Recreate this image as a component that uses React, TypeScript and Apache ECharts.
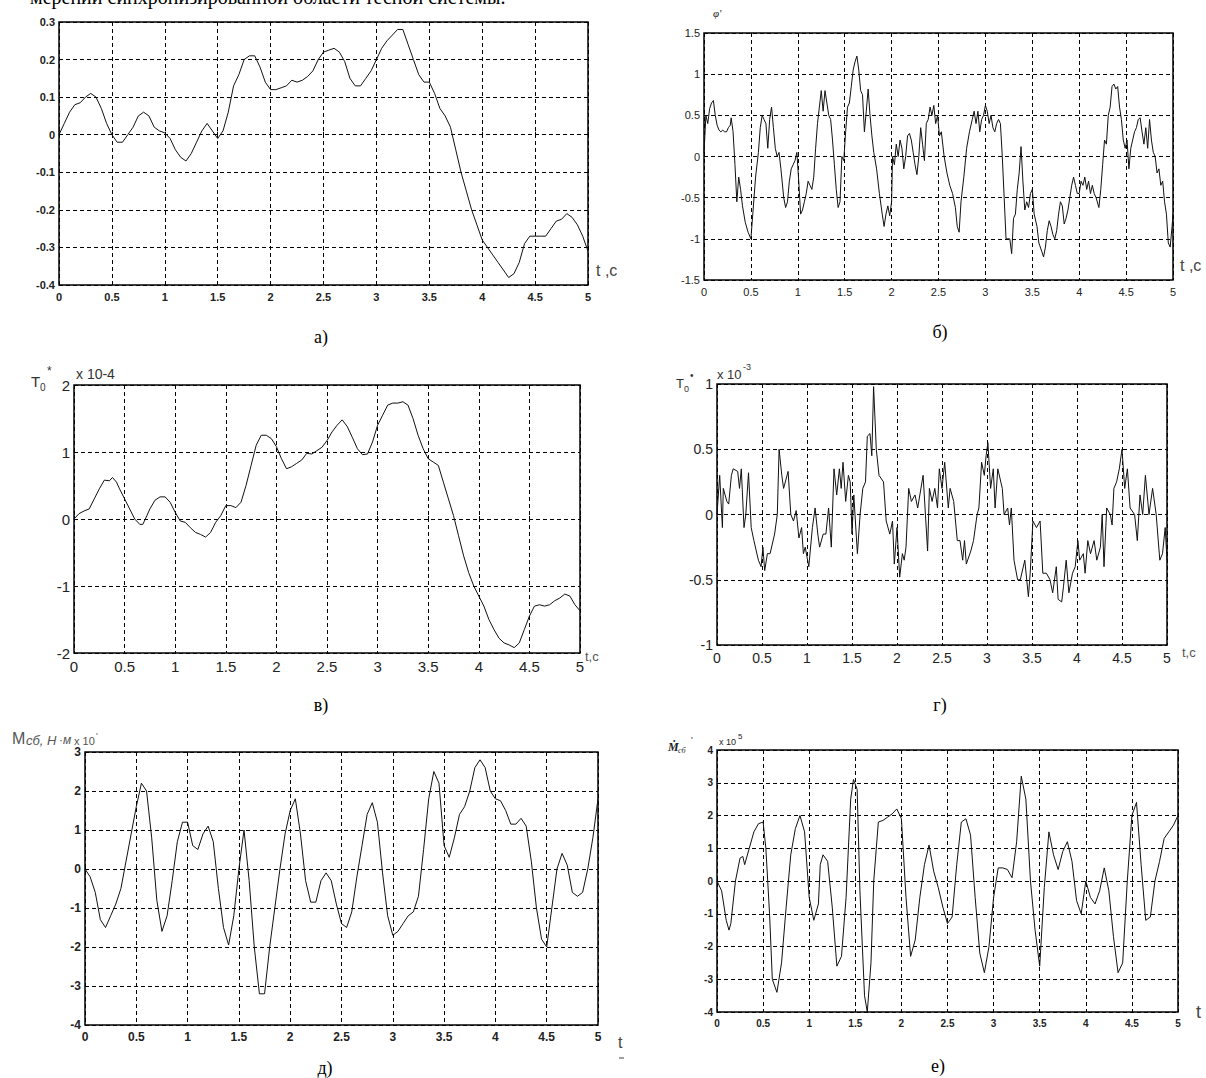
import React, { useEffect, useRef } from "react";
import * as echarts from "echarts";

// ---------- Panel а) ----------
const tA = [0,0.05,0.1,0.15,0.2,0.25,0.3,0.35,0.4,0.45,0.5,0.55,0.6,0.65,0.7,0.75,0.8,0.85,0.9,0.95,1,1.05,1.1,1.15,1.2,1.25,1.3,1.35,1.4,1.45,1.5,1.55,1.6,1.65,1.7,1.75,1.8,1.85,1.9,1.95,2,2.05,2.1,2.15,2.2,2.25,2.3,2.35,2.4,2.45,2.5,2.55,2.6,2.65,2.7,2.75,2.8,2.85,2.9,2.95,3,3.05,3.1,3.15,3.2,3.25,3.3,3.35,3.4,3.45,3.5,3.55,3.6,3.65,3.7,3.75,3.8,3.85,3.9,3.95,4,4.05,4.1,4.15,4.2,4.25,4.3,4.35,4.4,4.45,4.5,4.55,4.6,4.65,4.7,4.75,4.8,4.85,4.9,4.95,5];
const yA = [0,0.03,0.06,0.08,0.085,0.1,0.11,0.1,0.07,0.03,0,-0.02,-0.02,0,0.02,0.05,0.06,0.05,0.02,0.01,0.005,-0.01,-0.04,-0.06,-0.07,-0.05,-0.02,0.01,0.03,0.01,-0.01,0.01,0.06,0.13,0.16,0.2,0.21,0.21,0.18,0.14,0.12,0.12,0.125,0.13,0.145,0.14,0.145,0.155,0.17,0.2,0.22,0.225,0.23,0.22,0.195,0.15,0.13,0.13,0.15,0.17,0.2,0.23,0.25,0.265,0.28,0.28,0.24,0.2,0.16,0.14,0.14,0.11,0.07,0.05,0.02,-0.04,-0.1,-0.15,-0.2,-0.24,-0.28,-0.3,-0.32,-0.34,-0.36,-0.38,-0.37,-0.34,-0.29,-0.27,-0.27,-0.27,-0.27,-0.25,-0.23,-0.225,-0.21,-0.22,-0.24,-0.27,-0.31];

// ---------- Panel б) ----------
const tB = [0,0.02,0.04,0.06,0.08,0.1,0.12,0.14,0.16,0.18,0.2,0.22,0.24,0.26,0.28,0.29,0.31,0.33,0.35,0.37,0.39,0.41,0.44,0.47,0.5,0.52,0.55,0.58,0.6,0.62,0.64,0.66,0.68,0.7,0.72,0.74,0.76,0.78,0.8,0.82,0.85,0.87,0.89,0.91,0.93,0.95,0.97,0.99,1.01,1.03,1.05,1.07,1.09,1.11,1.13,1.15,1.17,1.19,1.21,1.23,1.25,1.27,1.29,1.31,1.33,1.35,1.37,1.39,1.41,1.43,1.45,1.47,1.49,1.51,1.53,1.55,1.57,1.59,1.61,1.63,1.65,1.67,1.69,1.71,1.73,1.75,1.77,1.79,1.81,1.84,1.87,1.9,1.92,1.94,1.96,1.98,2,2.01,2.03,2.05,2.07,2.09,2.11,2.13,2.15,2.17,2.19,2.21,2.23,2.25,2.27,2.29,2.31,2.33,2.35,2.37,2.39,2.41,2.43,2.45,2.47,2.49,2.51,2.53,2.56,2.59,2.62,2.65,2.68,2.7,2.72,2.74,2.77,2.8,2.83,2.86,2.88,2.9,2.92,2.94,2.96,2.98,3,3.02,3.04,3.06,3.08,3.1,3.12,3.14,3.16,3.18,3.2,3.22,3.24,3.26,3.28,3.3,3.32,3.34,3.36,3.38,3.4,3.42,3.44,3.46,3.48,3.5,3.52,3.55,3.57,3.6,3.62,3.64,3.66,3.68,3.7,3.72,3.74,3.76,3.78,3.8,3.82,3.84,3.86,3.88,3.9,3.92,3.94,3.96,3.98,4,4.02,4.04,4.06,4.08,4.1,4.12,4.14,4.16,4.18,4.21,4.23,4.25,4.27,4.29,4.31,4.33,4.35,4.37,4.39,4.41,4.43,4.45,4.47,4.49,4.51,4.53,4.55,4.57,4.59,4.61,4.63,4.65,4.67,4.69,4.71,4.73,4.75,4.77,4.79,4.81,4.83,4.85,4.87,4.89,4.91,4.93,4.95,4.97,4.99,5];
const yB = [0.04,0.5,0.4,0.58,0.65,0.68,0.5,0.38,0.32,0.3,0.32,0.3,0.3,0.35,0.38,0.47,0.3,-0.1,-0.55,-0.25,-0.4,-0.6,-0.8,-0.92,-1,-0.7,-0.25,0.05,0.35,0.5,0.45,0.4,0.1,0.45,0.6,0.35,0.1,0,0.05,-0.15,-0.5,-0.62,-0.55,-0.3,-0.15,-0.1,-0.05,0.05,-0.3,-0.7,-0.65,-0.55,-0.45,-0.3,-0.35,-0.4,-0.25,0.1,0.4,0.6,0.8,0.55,0.8,0.65,0.5,0.45,0.2,-0.1,-0.4,-0.62,-0.55,0,-0.05,0.3,0.6,0.65,0.85,1.05,1.15,1.22,1.05,0.8,0.75,0.3,0.55,0.82,0.5,0.25,0.05,-0.15,-0.45,-0.7,-0.85,-0.7,-0.6,-0.72,-0.55,0,-0.1,0.15,0,0.2,0.1,-0.15,0,0.25,0.28,0.2,0.05,-0.1,-0.22,0,0.35,0.15,-0.05,0.4,0.45,0.6,0.5,0.62,0.4,0.5,0.25,0.3,0,-0.2,-0.35,-0.45,-0.62,-0.85,-0.92,-0.55,-0.25,0.1,0.3,0.45,0.55,0.4,0.55,0.3,0.45,0.5,0.62,0.55,0.4,0.5,0.35,0.3,0.4,0.45,0.4,0,-0.5,-1,-1,-1,-1.18,-0.75,-0.7,-0.4,-0.2,0.12,-0.3,-0.65,-0.55,-0.62,-0.45,-0.4,-0.7,-0.85,-1.05,-1.15,-1.22,-1.1,-0.9,-0.78,-0.85,-0.95,-1,-0.9,-0.7,-0.55,-0.6,-0.82,-0.75,-0.65,-0.5,-0.35,-0.25,-0.35,-0.45,-0.45,-0.3,-0.35,-0.25,-0.4,-0.3,-0.45,-0.35,-0.45,-0.5,-0.62,-0.4,-0.1,0.2,0.15,0.5,0.6,0.85,0.88,0.82,0.85,0.6,0.45,0.2,0.1,0.2,-0.15,0.1,0.2,0.3,0.35,0.45,0.47,0.3,0.15,0.35,0.1,0.45,0.2,0.05,0,-0.2,-0.15,-0.35,-0.3,-0.55,-0.7,-1.05,-1.1,-0.85,-0.7];

// ---------- Panel в) (x 10^-4) ----------
const tV = [0,0.05,0.1,0.15,0.2,0.25,0.3,0.35,0.38,0.42,0.45,0.5,0.55,0.6,0.65,0.68,0.72,0.75,0.8,0.85,0.9,0.95,1,1.05,1.1,1.15,1.2,1.25,1.3,1.35,1.4,1.45,1.5,1.55,1.6,1.65,1.7,1.75,1.8,1.85,1.9,1.95,2,2.05,2.1,2.15,2.2,2.25,2.3,2.35,2.4,2.45,2.5,2.55,2.6,2.65,2.7,2.75,2.8,2.85,2.9,2.95,3,3.05,3.1,3.15,3.2,3.25,3.3,3.35,3.4,3.45,3.5,3.55,3.6,3.65,3.7,3.75,3.8,3.85,3.9,3.95,4,4.05,4.1,4.15,4.2,4.25,4.3,4.35,4.4,4.45,4.5,4.55,4.6,4.65,4.7,4.75,4.8,4.85,4.9,4.95,5];
const yV = [0,0.08,0.12,0.15,0.3,0.45,0.58,0.57,0.62,0.55,0.45,0.3,0.15,0,-0.08,-0.08,0.05,0.15,0.28,0.33,0.33,0.25,0.1,-0.03,-0.05,-0.13,-0.2,-0.23,-0.27,-0.2,-0.05,0.05,0.2,0.2,0.17,0.25,0.5,0.8,1.1,1.25,1.25,1.2,1.08,0.9,0.75,0.78,0.83,0.88,0.98,0.97,1.02,1.07,1.17,1.3,1.4,1.48,1.38,1.22,1.05,0.96,0.97,1.15,1.4,1.55,1.7,1.73,1.73,1.75,1.7,1.5,1.25,1.05,0.9,0.85,0.8,0.55,0.3,0.05,-0.25,-0.55,-0.8,-1,-1.15,-1.3,-1.5,-1.65,-1.78,-1.85,-1.88,-1.92,-1.85,-1.65,-1.45,-1.3,-1.28,-1.3,-1.28,-1.22,-1.18,-1.12,-1.15,-1.28,-1.37];

// ---------- Panel г) (x 10^-3) ----------
const tG = [0,0.03,0.06,0.07,0.11,0.13,0.16,0.18,0.23,0.25,0.27,0.3,0.32,0.35,0.38,0.41,0.46,0.49,0.51,0.53,0.56,0.59,0.64,0.67,0.69,0.72,0.74,0.79,0.82,0.85,0.88,0.91,0.94,0.96,0.98,1.02,1.06,1.09,1.12,1.14,1.18,1.21,1.24,1.27,1.3,1.33,1.36,1.38,1.4,1.43,1.46,1.48,1.5,1.52,1.56,1.59,1.62,1.65,1.67,1.7,1.72,1.74,1.77,1.8,1.85,1.88,1.92,1.95,1.97,2,2.03,2.06,2.08,2.1,2.13,2.16,2.2,2.23,2.29,2.34,2.36,2.39,2.42,2.45,2.47,2.5,2.53,2.57,2.59,2.63,2.67,2.7,2.73,2.75,2.77,2.82,2.85,2.89,2.91,2.94,2.97,2.99,3.01,3.04,3.07,3.09,3.12,3.17,3.19,3.23,3.25,3.27,3.3,3.34,3.37,3.42,3.46,3.48,3.51,3.55,3.59,3.62,3.66,3.7,3.73,3.77,3.79,3.83,3.85,3.88,3.91,3.95,3.98,4.01,4.03,4.07,4.09,4.12,4.15,4.19,4.22,4.26,4.28,4.3,4.33,4.37,4.39,4.41,4.44,4.47,4.5,4.53,4.56,4.59,4.64,4.67,4.7,4.73,4.76,4.8,4.84,4.88,4.92,4.95,4.98,5];
const yG = [0,0.3,-0.1,0.2,0.1,0.08,0.3,0.35,0.33,0.2,0.35,-0.1,0,0.32,-0.1,-0.2,-0.35,-0.4,-0.25,-0.43,-0.3,-0.3,-0.15,0,0.5,0.3,0.2,0.33,0,-0.05,0.03,-0.18,-0.1,-0.3,-0.25,-0.4,-0.1,0.05,-0.15,-0.25,-0.15,-0.15,0.05,-0.25,0.35,0.15,0.35,0.2,0.4,0.1,0.3,0.25,-0.15,0.15,-0.3,0,0.2,0.25,0.6,0.62,0.45,0.98,0.5,0.3,0.25,-0.05,-0.15,-0.05,-0.38,-0.1,-0.48,-0.3,-0.35,-0.25,0.2,0.1,0.15,0.05,0.3,-0.28,0.2,0.1,0.2,0.05,0.35,0.2,0.4,0.05,0.2,0.1,-0.2,-0.2,-0.35,-0.2,-0.38,-0.28,-0.2,0,0.05,0.4,0.3,0.45,0.55,0.2,0.35,0.05,0.35,0.2,0,0.05,-0.08,0.05,-0.35,-0.5,-0.5,-0.35,-0.63,-0.45,-0.05,-0.1,-0.05,-0.45,-0.45,-0.5,-0.6,-0.4,-0.65,-0.67,-0.55,-0.35,-0.6,-0.45,-0.4,-0.2,-0.35,-0.3,-0.45,-0.2,-0.3,-0.2,-0.35,-0.25,0,-0.4,0.05,0,-0.08,0.2,0.25,0.35,0.5,0.2,0.35,0.05,0,-0.2,0.15,0,0.3,0,0.2,0,-0.35,-0.3,-0.1,-0.35];

// ---------- Panel д) ----------
const tD = [0,0.05,0.1,0.15,0.2,0.25,0.3,0.35,0.4,0.45,0.5,0.55,0.6,0.65,0.7,0.75,0.8,0.85,0.9,0.95,1,1.05,1.1,1.15,1.2,1.25,1.3,1.35,1.4,1.45,1.5,1.55,1.6,1.65,1.7,1.75,1.8,1.85,1.9,1.95,2,2.05,2.1,2.15,2.2,2.25,2.3,2.35,2.4,2.45,2.5,2.55,2.6,2.65,2.7,2.75,2.8,2.85,2.9,2.95,3,3.05,3.1,3.15,3.2,3.25,3.3,3.35,3.4,3.45,3.5,3.55,3.6,3.65,3.7,3.75,3.8,3.85,3.9,3.95,4,4.05,4.1,4.15,4.2,4.25,4.3,4.35,4.4,4.45,4.5,4.55,4.6,4.65,4.7,4.75,4.8,4.85,4.9,4.95,5];
const yD = [0,-0.2,-0.6,-1.3,-1.5,-1.2,-0.9,-0.5,0.2,0.9,1.6,2.2,2,0.8,-0.8,-1.6,-1.2,-0.3,0.7,1.2,1.2,0.6,0.5,0.9,1.1,0.7,-0.5,-1.5,-1.95,-1.2,0,1,-0.3,-2,-3.2,-3.2,-2,-1,0,0.9,1.5,1.8,0.9,-0.3,-0.85,-0.85,-0.3,-0.1,-0.3,-0.9,-1.4,-1.5,-1.1,-0.2,0.6,1.4,1.7,1.2,-0.1,-1.2,-1.7,-1.6,-1.4,-1.2,-1.1,-0.7,0.5,1.8,2.5,2.2,0.6,0.3,0.8,1.4,1.6,2,2.6,2.8,2.6,2,1.8,1.75,1.5,1.15,1.15,1.3,1.1,0.2,-1,-1.8,-2,-1,0,0.4,0.1,-0.6,-0.7,-0.6,0,0.8,1.8];

// ---------- Panel е) (x 10^5) ----------
const tE = [0,0.05,0.1,0.13,0.15,0.2,0.25,0.28,0.3,0.35,0.4,0.45,0.5,0.53,0.57,0.6,0.65,0.7,0.75,0.8,0.85,0.9,0.95,1,1.05,1.1,1.12,1.15,1.2,1.25,1.3,1.35,1.4,1.45,1.48,1.52,1.55,1.6,1.63,1.67,1.7,1.75,1.8,1.85,1.9,1.95,2,2.05,2.1,2.15,2.2,2.25,2.3,2.35,2.4,2.45,2.5,2.55,2.6,2.65,2.7,2.75,2.8,2.85,2.9,2.95,3,3.05,3.1,3.15,3.2,3.25,3.3,3.35,3.4,3.45,3.5,3.55,3.6,3.65,3.7,3.75,3.8,3.85,3.9,3.95,4,4.05,4.1,4.15,4.2,4.25,4.3,4.35,4.4,4.45,4.5,4.55,4.6,4.65,4.7,4.75,4.8,4.85,4.9,4.95,5];
const yE = [0,-0.3,-1.2,-1.5,-1.3,0,0.7,0.75,0.5,1,1.5,1.75,1.8,1,-1,-3,-3.4,-2.5,-0.8,0.8,1.6,2,1.5,-0.5,-1.2,-0.7,0.5,0.8,0.6,-0.8,-2.6,-2.3,-0.5,2.5,3.1,2.8,-0.3,-3.5,-4,-2.5,0,1.8,1.85,1.95,2.05,2.2,1.9,-0.5,-2.3,-1.8,-0.5,0.5,1.1,0.3,-0.2,-0.8,-1.3,-1.1,0.5,1.8,1.9,1.4,-0.5,-2.2,-2.8,-2,-0.5,0.4,0.4,0.35,0.1,1.2,3.2,2.5,0,-1.5,-2.6,-0.2,1.5,0.8,0.35,0.9,1.2,0.6,-0.6,-1,0,-0.5,-0.7,-0.3,0.4,-0.3,-1.7,-2.8,-2.5,0,2,2.4,0.5,-1.2,-1.1,0,0.6,1.3,1.5,1.7,2];

// y ranges [min, max, interval]
const yRanges = [
  [-0.4, 0.3, 0.1],
  [-1.5, 1.5, 0.5],
  [-2, 2, 1],
  [-1, 1, 0.5],
  [-4, 3, 1],
  [-4, 4, 1],
];

const SANS = "Liberation Sans, Arial, sans-serif";
const SERIF = "Liberation Serif, Times New Roman, serif";

export default function App() {
  const ref = useRef<HTMLDivElement>(null);
  useEffect(() => {
    const chart = echarts.init(ref.current!, null, { renderer: "svg" });
    const grids = [
      { left: 59, top: 22, width: 529, height: 263 },
      { left: 704, top: 33, width: 469, height: 247 },
      { left: 74, top: 385, width: 506, height: 268 },
      { left: 717, top: 384, width: 450, height: 261 },
      { left: 85, top: 752, width: 513, height: 273 },
      { left: 717, top: 750, width: 461, height: 262 },
    ];
    const labelSizes = [11, 11, 15, 14, 12, 10];
    const labelWeights = ["bold", "normal", "normal", "normal", "bold", "bold"];
    const dash = [4, 3];
    const series = [
      [tA, yA], [tB, yB], [tV, yV], [tG, yG], [tD, yD], [tE, yE],
    ];
    const fmt = (v: number) => String(Math.round(v * 10) / 10);
    const T = (x: number, y: number, text: string, font: string, fill = "#333", align = "left") => ({
      type: "text", x, y, style: { text, font, fill, align, verticalAlign: "middle" },
    });
    const option: any = {
      animation: false,
      backgroundColor: "#fff",
      grid: grids.map((g) => ({ ...g, show: true, borderColor: "#000", borderWidth: 1.5, backgroundColor: "transparent" })),
      xAxis: grids.map((g, i) => ({
        type: "value",
        gridIndex: i,
        min: 0,
        max: 5,
        interval: 0.5,
        axisLine: { show: false },
        axisTick: { show: true, inside: true, length: 3, lineStyle: { color: "#000" } },
        axisLabel: { color: "#222", fontFamily: SANS, fontSize: labelSizes[i], fontWeight: labelWeights[i], margin: 6, formatter: fmt },
        splitLine: { show: true, lineStyle: { color: "#000", type: dash, width: 1 } },
      })),
      yAxis: grids.map((g, i) => ({
        type: "value",
        gridIndex: i,
        min: yRanges[i][0],
        max: yRanges[i][1],
        interval: yRanges[i][2],
        axisLine: { show: false },
        axisTick: { show: true, inside: true, length: 3, lineStyle: { color: "#000" } },
        axisLabel: { color: "#222", fontFamily: SANS, fontSize: labelSizes[i], fontWeight: labelWeights[i], margin: 4, formatter: fmt },
        splitLine: { show: true, lineStyle: { color: "#000", type: dash, width: 1 } },
      })),
      series: series.map(([t, y], i) => ({
        type: "line",
        xAxisIndex: i,
        yAxisIndex: i,
        data: (t as number[]).map((tv, k) => [tv, (y as number[])[k]]),
        showSymbol: false,
        lineStyle: { color: "#111", width: 1 },
        silent: true,
      })),
      graphic: [
        // clipped caption line at top of the page
        { type: "text", x: 30, y: 7, style: { text: "мерении синхронизированной области тесной системы.", font: `20px ${SERIF}`, fill: "#000", verticalAlign: "bottom" } },
        // panel captions
        T(321, 337, "а)", `18px ${SERIF}`, "#000", "center"),
        T(940, 332, "б)", `18px ${SERIF}`, "#000", "center"),
        T(321, 705, "в)", `18px ${SERIF}`, "#000", "center"),
        T(940, 705, "г)", `18px ${SERIF}`, "#000", "center"),
        T(325, 1068, "д)", `18px ${SERIF}`, "#000", "center"),
        T(938, 1066, "е)", `18px ${SERIF}`, "#000", "center"),
        // а) axis name
        T(596, 270, "t ,c", `16px ${SANS}`, "#444"),
        // б)
        T(713, 13, "φ'", `italic 11px ${SERIF}`, "#222"),
        T(1180, 265, "t ,c", `16px ${SANS}`, "#444"),
        // в)
        T(31, 381, "T", `15px ${SANS}`),
        T(40, 387, "0", `10px ${SANS}`),
        T(47, 371, "*", `12px ${SANS}`),
        T(76, 374, "x 10-4", `14px ${SANS}`),
        T(585, 656, "t,c", `13px ${SANS}`, "#555"),
        // г)
        T(676, 383, "T", `13px ${SANS}`),
        T(684, 389, "0", `9px ${SANS}`),
        T(690, 375, "•", `10px ${SANS}`),
        T(717, 374, "x 10", `13px ${SANS}`),
        T(743, 367, "-3", `9px ${SANS}`),
        T(1182, 652, "t,c", `13px ${SANS}`, "#555"),
        // д)
        T(12, 738, "M", `16px ${SANS}`, "#555"),
        T(26, 740, "сб, H", `italic 13px ${SANS}`, "#555"),
        T(59, 740, "·м", `italic 12px ${SANS}`, "#555"),
        T(74, 741, "x 10", `11px ${SANS}`, "#555"),
        T(96, 736, "'", `9px ${SANS}`, "#555"),
        T(618, 1042, "t", `16px ${SANS}`, "#444"),
        { type: "line", shape: { x1: 619, y1: 1058, x2: 624, y2: 1058 }, style: { stroke: "#444", lineWidth: 1 } },
        // е)
        T(668, 747, "Ṁ", `italic bold 12px ${SERIF}`, "#222"),
        T(678, 750, "сб", `italic 8px ${SERIF}`, "#222"),
        T(691, 740, "'", `9px ${SANS}`, "#222"),
        T(719, 742, "x 10", `9px ${SANS}`, "#222"),
        T(738, 736, "5", `8px ${SANS}`, "#222"),
        T(1196, 1012, "t", `18px ${SANS}`, "#444"),
      ],
    };
    chart.setOption(option);
    return () => chart.dispose();
  }, []);
  return (
    <div
      ref={ref}
      style={{ position: "absolute", left: 0, top: 0, width: 1206, height: 1078, background: "#fff" }}
    />
  );
}
